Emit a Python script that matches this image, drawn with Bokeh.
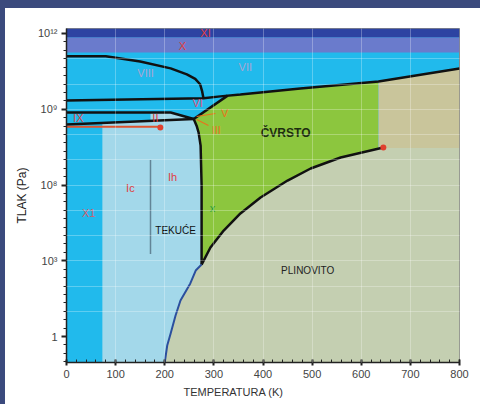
import numpy as np
from bokeh.plotting import figure
from bokeh.models import FixedTicker, Title, Range1d
from bokeh.core.properties import value
from bokeh.embed import file_html
from bokeh.resources import INLINE

# ---- axes -------------------------------------------------------------
# the pressure axis has evenly spaced levels carrying these labels
y_levels = [0, 1, 2, 3, 4]
y_labels = ["1", "10³", "10⁸", "10⁹", "10¹²"]
x_ticks = [0, 100, 200, 300, 400, 500, 600, 700, 800]

# ---- horizontal bands at the top (ice XI, ice X) ----------------------
band_bottom = [3.947, 3.749]
band_top = [4.066, 3.947]
band_colors = ["#2d43a2", "#6a7bcc"]

# ---- phase regions (temperature K, pressure level) ---------------------
liquid_T = [73, 73, 171, 171, 212, 259, 265, 269, 273, 275, 275, 263, 252, 232, 222, 212, 205, 200]
liquid_u = [-0.343, 2.82, 2.847, 2.957, 2.957, 2.871, 2.78, 2.69, 2.52, 2.0, 0.95, 0.871, 0.70, 0.475, 0.277, 0.04, -0.119, -0.343]

solid_T = [259, 328, 354, 476, 635, 635, 558, 497, 450, 395, 354, 320, 293, 275, 275, 273, 269, 265]
solid_u = [2.871, 3.18, 3.195, 3.274, 3.366, 2.49, 2.363, 2.218, 2.059, 1.835, 1.624, 1.399, 1.175, 0.95, 2.0, 2.52, 2.69, 2.78]

super_T = [635, 635, 800, 800]
super_u = [2.49, 3.366, 3.538, 2.49]

gas_T = [200, 205, 212, 222, 232, 252, 263, 275, 293, 320, 354, 395, 450, 497, 558, 645, 800, 800]
gas_u = [-0.343, -0.119, 0.04, 0.277, 0.475, 0.70, 0.871, 0.95, 1.175, 1.399, 1.624, 1.835, 2.059, 2.218, 2.363, 2.49, 2.49, -0.343]

# ---- boundary lines ---------------------------------------------------
viii_T = [0, 80, 150, 212, 245, 262, 272, 276, 279]
viii_u = [3.70, 3.70, 3.63, 3.54, 3.46, 3.40, 3.33, 3.24, 3.14]

vii_T = [0, 279, 313, 354, 476, 635, 800]
vii_u = [3.116, 3.145, 3.17, 3.195, 3.274, 3.366, 3.538]

vi_T = [0, 212, 259]
vi_u = [2.957, 2.957, 2.871]

ix_T = [0, 259]
ix_u = [2.80, 2.871]

v_T = [259, 328]
v_u = [2.871, 3.18]

melt_T = [259, 265, 269, 273, 275, 275]
melt_u = [2.871, 2.78, 2.69, 2.52, 2.0, 0.95]

sub_T = [275, 293, 320, 354, 395, 450, 497, 558, 645]
sub_u = [0.95, 1.175, 1.399, 1.624, 1.835, 2.059, 2.218, 2.363, 2.495]

vap_T = [275, 263, 252, 232, 222, 212, 205, 200]
vap_u = [0.95, 0.871, 0.70, 0.475, 0.277, 0.04, -0.119, -0.343]

ii_T = [0, 191]
ii_u = [2.77, 2.77]

dot_T = [191, 645]
dot_u = [2.76, 2.495]

ic_T = [171, 171]
ic_u = [2.323, 1.096]

ptr_v_T = [265, 303]
ptr_v_u = [2.904, 2.944]
ptr_iii_T = [265, 289]
ptr_iii_u = [2.865, 2.786]

# ---- labels -------------------------------------------------------------
roman_T = [283, 236, 161, 364, 267, 322, 305, 181, 24, 130, 216, 45, 297]
roman_u = [4.0, 3.83, 3.485, 3.564, 3.089, 2.944, 2.72, 2.89, 2.89, 1.967, 2.11, 1.637, 1.703]
roman_text = ["XI", "X", "VIII", "VII", "VI", "V", "III", "II", "IX", "Ic", "Ih", "X1", "x"]
roman_col = ["#e0403f", "#e0403f", "#a9a6d3", "#a9a6d3", "#e0507a", "#e8731c", "#e8731c",
             "#e0403f", "#e0403f", "#e0403f", "#e0403f", "#d0606e", "#2a9e3a"]

phase_T = [222, 446, 491]
phase_u = [1.40, 2.68, 0.871]
phase_text = ["TEKUĆE", "ČVRSTO", "PLINOVITO"]
phase_col = ["#111111", "#1d2e10", "#222222"]
phase_size = ["10px", "12px", "10px"]
phase_style = ["normal", "bold", "normal"]

# ---- figure -------------------------------------------------------------
FRAME = "#3b4a7d"
p = figure(width=475, height=396, output_backend="svg", toolbar_location=None,
           x_range=Range1d(0, 800), y_range=Range1d(-0.343, 4.066),
           min_border_left=61, min_border_right=21, min_border_top=20, min_border_bottom=42)
p.frame_width = 393
p.frame_height = 334
p.background_fill_color = "#21baec"
p.border_fill_color = "white"
p.outline_line_color = "#8a8a8a"
# dark frame strips (top and left) of the original picture
p.margin = (8, 0, 0, 5)
p.styles = {"box-shadow": f"0 -8px 0 0 {FRAME}, -5px 0 0 0 {FRAME}, -5px -8px 0 0 {FRAME}"}

FONT = "Liberation Sans"

p.quad(left=0, right=800, bottom=band_bottom, top=band_top, fill_color=band_colors, line_color=None)
p.patch(liquid_T, liquid_u, fill_color="#a3d8ea", line_color=None)
p.patch(solid_T, solid_u, fill_color="#8cc63e", line_color=None)
p.patch(super_T, super_u, fill_color="#c9c59b", line_color=None)
p.patch(gas_T, gas_u, fill_color="#c4cfb1", line_color=None)

for xs, ys in [(viii_T, viii_u), (vii_T, vii_u), (vi_T, vi_u), (ix_T, ix_u),
               (v_T, v_u), (melt_T, melt_u), (sub_T, sub_u)]:
    p.line(xs, ys, line_color="#111111", line_width=2.5)
p.line(vap_T, vap_u, line_color="#2b4f9e", line_width=2)
p.line(ii_T, ii_u, line_color="#e0532e", line_width=2)
p.line(ptr_v_T, ptr_v_u, line_color="#e8731c", line_width=1.2)
p.line(ptr_iii_T, ptr_iii_u, line_color="#e8731c", line_width=1.2)
p.line(ic_T, ic_u, line_color="#223044", line_width=1.5, line_dash="1 1")
p.scatter(dot_T, dot_u, size=6, fill_color="#e0402e", line_color=None)

p.text(roman_T, roman_u, text=roman_text, text_color=roman_col, text_font=value(FONT),
       text_font_size="11px", text_align="center", text_baseline="middle")
for tx, ty, tt, tc, ts, st in zip(phase_T, phase_u, phase_text, phase_col, phase_size, phase_style):
    p.text([tx], [ty], text=[tt], text_color=tc, text_font=value(FONT), text_font_size=ts,
           text_font_style=st, text_align="center", text_baseline="middle")

# grids
p.xgrid.ticker = FixedTicker(ticks=x_ticks[1:-1])
p.ygrid.ticker = FixedTicker(ticks=[k / 3 for k in range(1, 12)])
for g in (p.xgrid, p.ygrid):
    g.grid_line_color = "white"
    g.grid_line_alpha = 0.28
    g.level = "guide"

# axes
p.xaxis.ticker = FixedTicker(ticks=x_ticks, minor_ticks=list(range(0, 801, 20)))
p.yaxis.ticker = FixedTicker(ticks=y_levels, minor_ticks=[k / 9 for k in range(-3, 37)])
p.yaxis.major_label_overrides = {lv: lb for lv, lb in zip(y_levels, y_labels)}
for ax in (p.xaxis, p.yaxis):
    ax.axis_line_color = "#222222"
    ax.axis_line_width = 1.5
    ax.major_tick_line_color = "#222222"
    ax.minor_tick_line_color = "#222222"
    ax.major_tick_line_width = 2
    ax.major_label_text_font = FONT
    ax.major_label_text_font_size = "11px"
    ax.major_label_text_color = "#444444"
p.xaxis.major_tick_in = 3
p.xaxis.major_tick_out = 3
p.xaxis.minor_tick_in = 3
p.xaxis.minor_tick_out = 0
p.xaxis.major_label_standoff = 4
p.yaxis.major_tick_in = 0
p.yaxis.major_tick_out = 5
p.yaxis.minor_tick_in = 0
p.yaxis.minor_tick_out = 3
p.yaxis.major_label_standoff = 4

p.yaxis.axis_label = "TLAK (Pa)"
p.yaxis.axis_label_text_font = FONT
p.yaxis.axis_label_text_font_size = "12px"
p.yaxis.axis_label_text_font_style = "normal"
p.yaxis.axis_label_text_color = "#222222"
p.yaxis.axis_label_standoff = 6

p.add_layout(Title(text="TEMPERATURA (K)", align="left", offset=117, text_font=FONT,
                   text_font_size="11px", text_font_style="normal", text_color="#333333",
                   standoff=6), "below")

open("out.html", "w").write(file_html(p, INLINE))
